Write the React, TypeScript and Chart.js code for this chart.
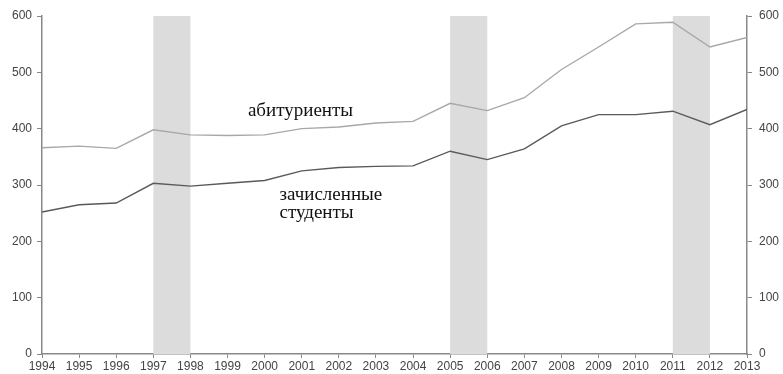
import React, { useEffect, useRef } from "react";
import { Chart, registerables } from "chart.js";

Chart.register(...registerables);

const years = [1994, 1995, 1996, 1997, 1998, 1999, 2000, 2001, 2002, 2003, 2004, 2005, 2006, 2007, 2008, 2009, 2010, 2011, 2012, 2013];
const applicants = [366, 369, 365, 398, 389, 388, 389, 400, 403, 410, 413, 445, 432, 455, 505, 545, 586, 589, 545, 562];
const enrolled = [252, 265, 268, 303, 298, 303, 308, 325, 331, 333, 334, 360, 345, 364, 405, 425, 425, 431, 407, 434];
const bands: [number, number][] = [[1997, 1998], [2005, 2006], [2011, 2012]];
const yTicks = [0, 100, 200, 300, 400, 500, 600];
const labelApplicants = { text: "абитуриенты", x: 1999.55, y: 422 };
const labelEnrolled = { lines: ["зачисленные", "студенты"], x: 2000.4, y: 273 };

const bandsPlugin = {
  id: "bands",
  beforeDatasetsDraw(chart: any) {
    const { ctx, chartArea, scales } = chart;
    const xs = scales.x;
    ctx.save();
    ctx.fillStyle = "#dcdcdc";
    for (const [a, b] of bands) {
      const x1 = xs.getPixelForValue(a);
      const x2 = xs.getPixelForValue(b);
      ctx.fillRect(x1, chartArea.top, x2 - x1, chartArea.bottom - chartArea.top);
    }
    ctx.restore();
  },
};

const textPlugin = {
  id: "texts",
  afterDatasetsDraw(chart: any) {
    const { ctx, scales } = chart;
    const xs = scales.x;
    const ys = scales.y;
    ctx.save();
    ctx.fillStyle = "#111";
    ctx.font = "19px 'Liberation Serif', serif";
    ctx.textAlign = "left";
    ctx.textBaseline = "alphabetic";
    ctx.fillText(labelApplicants.text, xs.getPixelForValue(labelApplicants.x), ys.getPixelForValue(labelApplicants.y));
    const bx = xs.getPixelForValue(labelEnrolled.x);
    const by = ys.getPixelForValue(labelEnrolled.y);
    labelEnrolled.lines.forEach((l, i) => ctx.fillText(l, bx, by + i * 18));
    ctx.restore();
  },
};

export default function App() {
  const ref = useRef<HTMLCanvasElement>(null);
  useEffect(() => {
    const tickFont = { family: "'Liberation Sans', Arial, sans-serif", size: 12 };
    const gridCommon = { drawOnChartArea: false, color: "#888", lineWidth: 1 };
    const chart = new Chart(ref.current!, {
      type: "line",
      data: {
        datasets: [
          {
            label: "абитуриенты",
            data: years.map((y, i) => ({ x: y, y: applicants[i] })),
            borderColor: "#a8a8a8",
            borderWidth: 1.4,
            pointRadius: 0,
            tension: 0,
          },
          {
            label: "зачисленные студенты",
            data: years.map((y, i) => ({ x: y, y: enrolled[i] })),
            borderColor: "#5a5a5a",
            borderWidth: 1.4,
            pointRadius: 0,
            tension: 0,
          },
        ],
      },
      options: {
        animation: false,
        responsive: true,
        maintainAspectRatio: false,
        layout: { padding: { top: 16, left: 0, right: 0, bottom: 0 } },
        plugins: { legend: { display: false }, tooltip: { enabled: false } },
        scales: {
          x: {
            type: "linear",
            min: years[0],
            max: years[years.length - 1],
            afterBuildTicks: (s: any) => { s.ticks = years.map((v) => ({ value: v })); },
            ticks: { callback: (v: any) => String(v), font: tickFont, color: "#444", padding: 1, maxRotation: 0, autoSkip: false },
            grid: { ...gridCommon, tickLength: 4 },
            border: { color: "#888", width: 1.5 },
            afterFit: (s: any) => { s.height = 20; },
          },
          y: {
            position: "left",
            min: 0,
            max: 600,
            afterBuildTicks: (s: any) => { s.ticks = yTicks.map((v) => ({ value: v })); },
            ticks: { font: tickFont, color: "#444", padding: 5 },
            grid: { ...gridCommon, tickLength: 5 },
            border: { color: "#888", width: 1.5 },
            afterFit: (s: any) => { s.width = 42; },
          },
          y2: {
            position: "right",
            min: 0,
            max: 600,
            afterBuildTicks: (s: any) => { s.ticks = yTicks.map((v) => ({ value: v })); },
            ticks: { font: tickFont, color: "#444", padding: 7 },
            grid: { ...gridCommon, tickLength: 5 },
            border: { color: "#888", width: 1.5 },
            afterFit: (s: any) => { s.width = 36; },
          },
        },
      },
      plugins: [bandsPlugin, textPlugin],
    } as any);
    return () => chart.destroy();
  }, []);
  return (
    <div style={{ position: "absolute", left: 0, top: 0, width: 783, height: 374, background: "#fff" }}>
      <canvas ref={ref} />
    </div>
  );
}
